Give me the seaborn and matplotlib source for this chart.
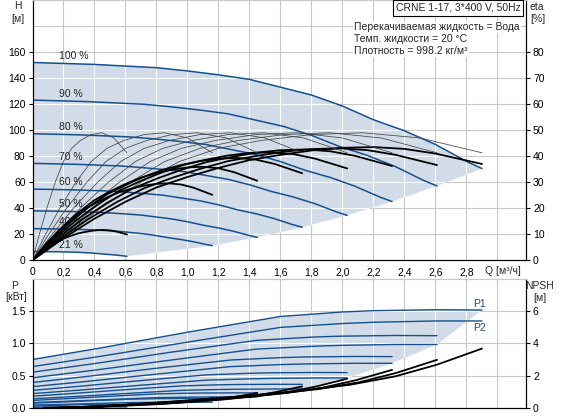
import numpy as np
import matplotlib
matplotlib.use("Agg")
import matplotlib.pyplot as plt
import seaborn as sns
from matplotlib.patches import Polygon

# speeds shown in the chart and the total efficiency of each speed relative to 100 %
speeds = [1.0, 0.9, 0.8, 0.7, 0.6, 0.5, 0.4, 0.21]
speed_labels = ["100 %", "90 %", "80 %", "70 %", "60 %", "50 %", "40 %", "21 %"]
eta_rel = [1.0, 0.989, 0.979, 0.954, 0.904, 0.826, 0.68, 0.268]

# 100 % curves
q_h = [0, 0.4, 0.8, 1.0, 1.2, 1.4, 1.6, 1.8, 2.0, 2.2, 2.4, 2.6, 2.8, 2.9]
h_100 = [152, 150.5, 148, 145.5, 142.5, 139, 133, 127, 118.5, 108, 99.5, 89, 76, 70.5]

# pump efficiency (thin lines)
q_eta = [0, 0.2, 0.44, 0.7, 0.95, 1.2, 1.47, 1.8, 2.13, 2.5, 2.9]
eta_100 = [0, 9.5, 20, 30, 38, 43, 46, 48.3, 49, 47, 41.3]

# total efficiency (thick lines)
q_tot = [0, 0.2, 0.4, 0.6, 0.8, 1.0, 1.2, 1.4, 1.6, 1.8, 2.0, 2.2, 2.4, 2.6, 2.9]
eta_tot_100 = [0, 8.5, 16, 22.5, 28, 32, 35.5, 38.5, 40.5, 42.2, 43.2, 43.5, 42.8, 41, 37]

q_p = [0, 0.44, 1.0, 1.6, 2.0, 2.2, 2.6, 2.9]
p1_100 = [0.75, 0.93, 1.175, 1.42, 1.49, 1.51, 1.525, 1.52]
p2_100 = [0.64, 0.80, 1.02, 1.25, 1.31, 1.33, 1.35, 1.35]

q_npsh = [0.35, 0.7, 1.0, 1.3, 1.6, 1.8, 2.05, 2.34, 2.61, 2.9]
npsh_100 = [0.0, 0.25, 0.45, 0.68, 0.93, 1.14, 1.43, 1.95, 2.68, 3.68]

x_ticks = [0, 0.2, 0.4, 0.6, 0.8, 1.0, 1.2, 1.4, 1.6, 1.8, 2.0, 2.2, 2.4, 2.6, 2.8, 3.0]
x_tick_labels = ["0", "0,2", "0,4", "0,6", "0,8", "1,0", "1,2", "1,4", "1,6",
                 "1,8", "2,0", "2,2", "2,4", "2,6", "2,8", ""]

BLUE = "#15508f"
SHADE = "#d1dce8"
GRID = "#c8c8c8"

sns.set_style("white")
plt.rcParams["font.family"] = ["Liberation Sans", "DejaVu Sans"]
plt.rcParams["font.size"] = 7.5

W, H = 564, 417
fig = plt.figure(figsize=(W / 100, H / 100), dpi=100)
left = 32.5 / W
width = (526 - 32.5) / W
ax_h = fig.add_axes([left, 1 - 260.3 / H, width, 260.3 / H])
ax_p = fig.add_axes([left, 1 - 407.7 / H, width, (407.7 - 279.2) / H])

q_h = np.array(q_h)
h_100 = np.array(h_100)
q_eta = np.array(q_eta)
eta_100 = np.array(eta_100)
q_tot = np.array(q_tot)
eta_tot_100 = np.array(eta_tot_100)
q_p = np.array(q_p)
p1_100 = np.array(p1_100)
p2_100 = np.array(p2_100)
q_npsh = np.array(q_npsh)
npsh_100 = np.array(npsh_100)


def add_grid(ax, xs, ys, patch):
    for x in xs:
        ax.axvline(x, color=GRID, lw=0.8, zorder=0.5)
        ax.axvline(x, color="white", lw=0.8, zorder=1.2).set_clip_path(patch)
    for y in ys:
        ax.axhline(y, color=GRID, lw=0.8, zorder=0.5)
        ax.axhline(y, color="white", lw=0.8, zorder=1.2).set_clip_path(patch)


def style_axes(ax):
    for side in ["left", "right", "bottom"]:
        ax.spines[side].set_color("black")
        ax.spines[side].set_linewidth(0.8)
    ax.spines["top"].set_color(GRID)
    ax.tick_params(direction="out", length=3, width=0.8, pad=2, labelsize=7.5,
                   colors="black")


# ---------- head / efficiency ----------
s_min = speeds[-1]
outline = [(q, h) for q, h in zip(q_h, h_100)]
outline += [(q_h[-1] * s, h_100[-1] * s ** 2) for s in speeds[1:]]
outline += [(q * s_min, h * s_min ** 2) for q, h in zip(q_h[::-1][1:], h_100[::-1][1:])]
shade_h = Polygon(outline, closed=True, fc=SHADE, ec="none", zorder=1)
ax_h.add_patch(shade_h)
add_grid(ax_h, x_ticks[1:], range(20, 200, 20), shade_h)

for s, lab in zip(speeds, speed_labels):
    sns.lineplot(x=q_h * s, y=h_100 * s ** 2, ax=ax_h, color=BLUE, lw=1.1, zorder=2)
    y_lab = np.interp(0.2, q_h * s, h_100 * s ** 2)
    ax_h.annotate(lab, (0.174, y_lab), xytext=(0, 5.3), textcoords="offset points",
                  va="center", ha="left", fontsize=7.5, zorder=3)

ax_h.set_xlim(0, 3.184)
ax_h.set_ylim(0, 200)
ax_h.set_xticks(x_ticks)
ax_h.set_xticklabels(x_tick_labels)
ax_h.set_yticks(range(0, 161, 20))
ax_h.set_xlabel("")
ax_h.set_ylabel("")
style_axes(ax_h)

ax_eta = ax_h.twinx()
for s, r in zip(speeds, eta_rel):
    sns.lineplot(x=q_eta * s, y=eta_100, ax=ax_eta, color="#444444", lw=0.55)
    sns.lineplot(x=q_tot * s, y=eta_tot_100 * r, ax=ax_eta, color="black", lw=1.3)
ax_eta.set_ylim(0, 100)
ax_eta.set_yticks(range(0, 81, 10))
ax_eta.set_ylabel("")
style_axes(ax_eta)

# ---------- power / NPSH ----------
outline_p = [(q, p) for q, p in zip(q_p, p1_100)]
outline_p += [(q_p[-1] * s, p2_100[-1] * s ** 3) for s in speeds[1:]]
outline_p += [(0, 0)]
shade_p = Polygon(outline_p, closed=True, fc=SHADE, ec="none", zorder=1)
ax_p.add_patch(shade_p)
add_grid(ax_p, x_ticks[1:], [0.5, 1.0, 1.5], shade_p)

for s, r in zip(speeds, eta_rel):
    sns.lineplot(x=q_p * s, y=p1_100 * s ** 3 / r, ax=ax_p, color=BLUE, lw=1.0, zorder=2)
    sns.lineplot(x=q_p * s, y=p2_100 * s ** 3, ax=ax_p, color=BLUE, lw=1.0, zorder=2)

ax_p.set_xlim(0, 3.184)
ax_p.set_ylim(0, 2.0)
ax_p.set_xticks(x_ticks)
ax_p.set_xticklabels([])
ax_p.set_yticks([0, 0.5, 1.0, 1.5])
ax_p.set_yticklabels(["0.0", "0.5", "1.0", "1.5"])
ax_p.set_ylabel("")
style_axes(ax_p)

ax_n = ax_p.twinx()
for s in speeds:
    sns.lineplot(x=q_npsh * s, y=npsh_100 * s ** 2, ax=ax_n, color="black", lw=1.3)
ax_n.set_ylim(0, 8)
ax_n.set_yticks([0, 2, 4, 6])
ax_n.set_ylabel("")
style_axes(ax_n)


# ---------- texts ----------
def ftext(x, y, s, **kw):
    fig.text(x / W, 1 - y / H, s, va="center", fontsize=7.5, **kw)


ftext(18, 6, "H", ha="center")
ftext(18, 18.5, "[м]", ha="center")
ftext(537, 6.7, "eta", ha="center")
ftext(538, 19.3, "[%]", ha="center")
ftext(15, 285.7, "P", ha="center")
ftext(16, 297, "[кВт]", ha="center")
ftext(540, 285.7, "NPSH", ha="center")
ftext(540, 297.7, "[м]", ha="center")
ftext(485, 270.7, "Q [м³/ч]", ha="left")
ftext(480, 304, "P1", ha="center", color="#1f4a7f")
ftext(480, 328.3, "P2", ha="center", color="#1f4a7f")

ftext(458, 8, "CRNE 1-17, 3*400 V, 50Hz", ha="center",
      bbox=dict(boxstyle="square,pad=0.25", fc="white", ec="black", lw=0.8))
for y, s in [(26.7, "Перекачиваемая жидкость = Вода"),
             (39, "Темп. жидкости = 20 °C"),
             (51, "Плотность = 998.2 кг/м³")]:
    ftext(354, y, s, ha="left",
          bbox=dict(boxstyle="square,pad=0.1", fc="white", ec="none"))

fig.savefig("out.png", dpi=100)
